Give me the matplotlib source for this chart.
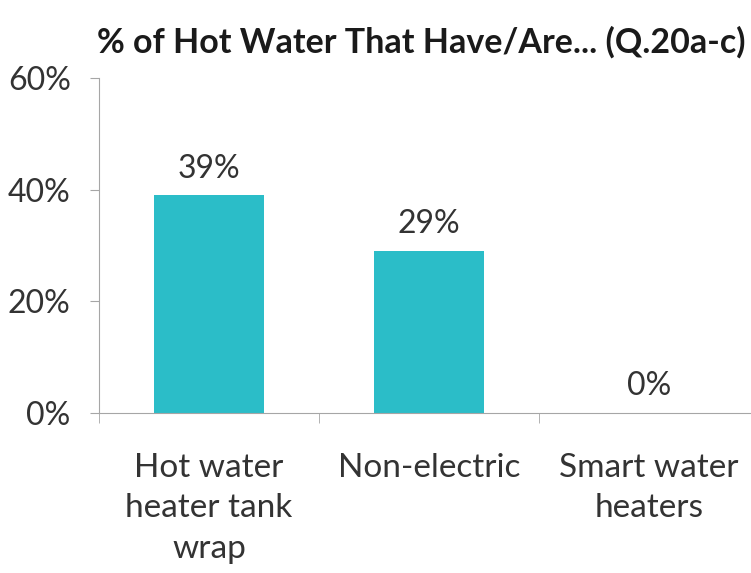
import matplotlib.pyplot as plt
import numpy as np

categories = ["Hot water\nheater tank\nwrap", "Non-electric", "Smart water\nheaters"]
values = [39, 29, 0]
value_labels = ["39%", "29%", "0%"]
yticks = [0, 20, 40, 60]

plt.rcParams['font.family'] = ['Lato', 'DejaVu Sans']

fig = plt.figure(figsize=(7.51, 5.73), dpi=100)
ax = fig.add_axes([0.132, 0.279, 0.868, 0.585])

x = np.arange(len(categories))
ax.bar(x, values, width=0.5, color='#2BBDC8')

for xi, v, lab in zip(x, values, value_labels):
    ax.text(xi, v + 2.1, lab, ha='center', va='bottom', fontsize=23, color='#333333')

ax.set_xlim(-0.5, 2.464)
ax.set_ylim(0, 60)
ax.set_yticks(yticks)
ax.set_yticklabels([f"{t}%" for t in yticks], fontsize=23, color='#333333')

# category boundary ticks, labels at centres
ax.set_xticks([-0.5, 0.5, 1.5], minor=True)
ax.set_xticks(x)
ax.set_xticklabels(categories, fontsize=24, color='#333333', linespacing=1.42)
ax.tick_params(axis='x', which='major', length=0, pad=29)
ax.tick_params(axis='x', which='minor', length=7, color='#a6a6a6', direction='out')
ax.tick_params(axis='y', length=6.5, color='#a6a6a6', pad=14)

for s in ['top', 'right']:
    ax.spines[s].set_visible(False)
for s in ['left', 'bottom']:
    ax.spines[s].set_color('#a6a6a6')

fig.text(0.561, 0.909, "% of Hot Water That Have/Are... (Q.20a-c)", ha='center',
         fontsize=24.5, fontweight='bold', color='#1a1a1a')

fig.savefig('out.png', dpi=100)
